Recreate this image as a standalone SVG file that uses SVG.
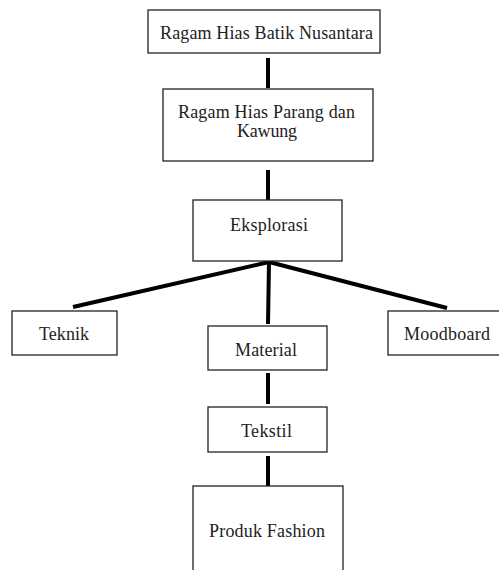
<svg xmlns="http://www.w3.org/2000/svg" width="499" height="570" viewBox="0 0 499 570">
<style>
.box{fill:#fff;stroke:#222;stroke-width:1.3}
.t{font-family:"Liberation Serif","Times New Roman",serif;font-size:18px;fill:#222;text-anchor:middle}
.c{stroke:#000;stroke-width:4;fill:none;stroke-linecap:butt}
</style>
<rect width="499" height="570" fill="#fff"/>
<g id="connectors">
<line class="c" x1="268" y1="58" x2="268" y2="88"/>
<line class="c" x1="268" y1="170" x2="268" y2="200"/>
<line class="c" x1="269" y1="262" x2="73" y2="307"/>
<line class="c" x1="269" y1="262" x2="268" y2="324"/>
<line class="c" x1="269" y1="262" x2="447" y2="308"/>
<line class="c" x1="268" y1="373" x2="268" y2="404"/>
<line class="c" x1="268" y1="456" x2="268" y2="486"/>
</g>
<g id="n1"><rect class="box" x="148" y="10" width="232" height="43"/><text class="t" x="266.5" y="39" textLength="213" lengthAdjust="spacing">Ragam Hias Batik Nusantara</text></g>
<g id="n2"><rect class="box" x="163" y="89" width="210" height="72"/><text class="t" x="266.5" y="118" textLength="177" lengthAdjust="spacing">Ragam Hias Parang dan</text><text class="t" x="267" y="137" textLength="60" lengthAdjust="spacing">Kawung</text></g>
<g id="n3"><rect class="box" x="193" y="200" width="149" height="61"/><text class="t" x="269" y="231" textLength="78" lengthAdjust="spacing">Eksplorasi</text></g>
<g id="n4"><rect class="box" x="12" y="311" width="105" height="44"/><text class="t" x="64" y="340" textLength="50" lengthAdjust="spacing">Teknik</text></g>
<g id="n5"><rect class="box" x="208" y="326" width="119" height="44"/><text class="t" x="266" y="356" textLength="62" lengthAdjust="spacing">Material</text></g>
<g id="n6"><rect class="box" x="388" y="311" width="115" height="44"/><text class="t" x="447" y="340" textLength="86" lengthAdjust="spacing">Moodboard</text></g>
<g id="n7"><rect class="box" x="208" y="407" width="119" height="45"/><text class="t" x="266.5" y="437" textLength="51" lengthAdjust="spacing">Tekstil</text></g>
<g id="n8"><rect class="box" x="193" y="486" width="150" height="100"/><text class="t" x="267" y="537" textLength="116" lengthAdjust="spacing">Produk Fashion</text></g>
</svg>
